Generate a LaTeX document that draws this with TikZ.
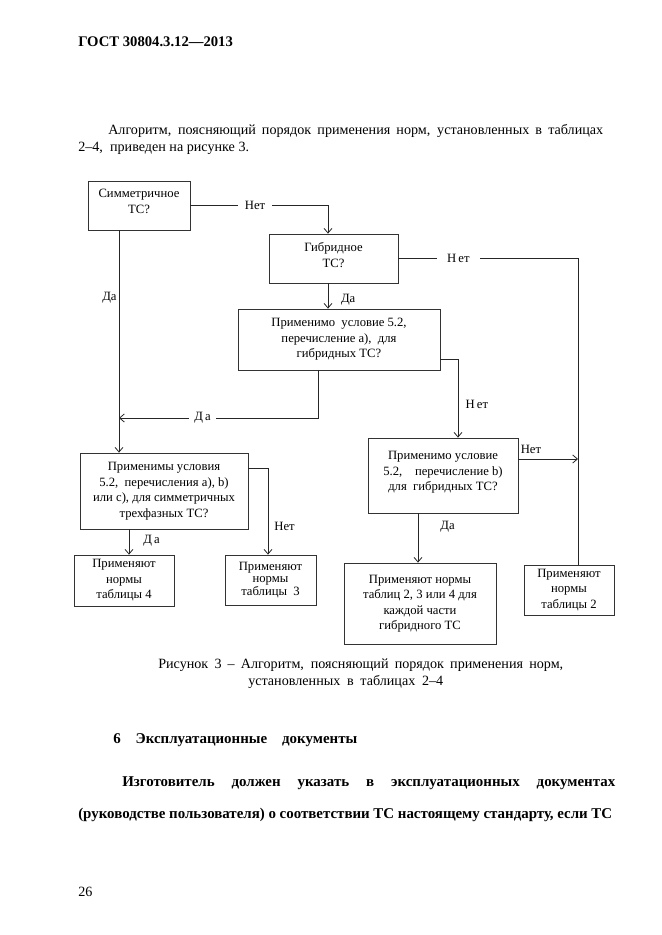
\documentclass[tikz,border=0pt]{standalone}
\usepackage{fontspec}
\setmainfont{Liberation Serif}
\usetikzlibrary{arrows.meta}

\begin{document}
\begin{tikzpicture}[x=0.75pt, y=-0.75pt,
  box/.style={draw=black!80, line width=0.6pt, align=center, inner sep=0pt,
    font=\fontsize{9.5pt}{11.6pt}\selectfont},
  lbl/.style={font=\fontsize{9.5pt}{11pt}\selectfont, inner sep=1.5pt},
  wire/.style={draw=black!85, line width=0.6pt},
  arr/.style={wire, -{Straight Barb[length=3.5pt,width=6pt]}},
  txt/.style={anchor=mid west, inner sep=0pt, font=\fontsize{10.6pt}{12pt}\selectfont},
  btxt/.style={txt, font=\fontsize{11.2pt}{13pt}\selectfont\bfseries}]

% page
\useasboundingbox (0,0) rectangle (661,935);
\fill[white] (0,0) rectangle (661,935);

% text above the figure
\node[btxt, font=\fontsize{11pt}{13pt}\selectfont\bfseries] (head) at (78,43) {ГОСТ 30804.3.12—2013};
\node[txt] (par1) at (108,131) {\makebox[371.25pt][s]{Алгоритм, поясняющий порядок применения норм, установленных в таблицах}};
\node[txt] (par2) at (78,148) {2–4,\ \ приведен на рисунке 3.};

% the boxes of the algorithm (the rule at the end lifts the text a little)
\node[box, minimum width=76.5pt, minimum height=36.75pt] (sym) at (139,205.5) {Симметричное\\ТС?\rule[-6pt]{0pt}{0pt}};
\node[box, minimum width=96.75pt, minimum height=36.75pt] (hyb) at (333.5,258.5) {Гибридное\\ТС?\rule[-5.25pt]{0pt}{0pt}};
\node[box, minimum width=151.5pt, minimum height=45.75pt] (conda) at (339,339.5) {Применимо\ \ условие 5.2,\\перечисление а),\ \ для\\гибридных ТС?};
\node[box, minimum width=126pt, minimum height=57pt] (symc) at (164,491) {Применимы условия\\5.2,\ \ перечисления а), b)\\или с), для симметричных\\трехфазных ТС?};
\node[box, minimum width=112.5pt, minimum height=56.25pt] (condb) at (443,475.5) {Применимо условие\\5.2,\quad перечисление b)\\для\ \ гибридных ТС?\rule[-6.75pt]{0pt}{0pt}};
\node[box, minimum width=67.5pt, minimum height=37.5pt] (tab2) at (569,590) {Применяют\\нормы\\таблицы 2};
\node[box, minimum width=114pt, minimum height=60.75pt] (tab234) at (420,603.5) {Применяют нормы\\таблиц 2, 3 или 4 для\\каждой части\\гибридного ТС};
\node[box, minimum width=75pt, minimum height=38.25pt] (tab4) at (124,580.5) {Применяют\\нормы\\таблицы 4};
\node[box, minimum width=68.25pt, minimum height=37.5pt, font=\fontsize{9.5pt}{8.8pt}\selectfont] (tab3) at (270.5,580) {Применяют\\нормы\\таблицы\ \ 3};

% points where the connectors leave the boxes
\coordinate (symS) at ([xshift=-15pt]sym.south);
\coordinate (hybN) at ([xshift=-4.125pt]hyb.north);
\coordinate (hybS) at ([xshift=-4.125pt]hyb.south);
\coordinate (condaS) at ([xshift=-15.75pt]conda.south);
\coordinate (condaE) at ([yshift=-14.625pt]conda.east);
\coordinate (join) at (119,418);
\coordinate (condbN) at ([xshift=11.25pt]condb.north);
\coordinate (condbE) at ([yshift=12.375pt]condb.east);
\coordinate (condbS) at ([xshift=-18.75pt]condb.south);
\coordinate (tab2N) at ([xshift=6.75pt]tab2.north);
\coordinate (symcE) at ([yshift=17.25pt]symc.east);
\coordinate (symcS) at ([xshift=-26.25pt]symc.south);
\coordinate (tab3N) at ([xshift=-1.875pt]tab3.north);

% connectors
\draw[arr] (sym.east) -| node[lbl, pos=0.235, fill=white, inner xsep=5pt] {Нет} (hybN);
\draw[wire] (hyb.east) -| node[lbl, pos=0.167, fill=white, inner xsep=8pt] {Н\,ет} (tab2N);
\draw[arr] (hybS) -- node[lbl, pos=0.65, anchor=west, xshift=8pt] {Да} (hybS |- conda.north);
\draw[arr] (symS) -- node[lbl, pos=0.305, anchor=east] {Да} (symS |- symc.north);
\draw[arr] (condaS) |- node[lbl, pos=0.79, fill=white, inner xsep=4pt] {Д\,а} (join);
\draw[arr] (condaE) -| node[lbl, pos=0.79, anchor=west, xshift=4pt] {Н\,ет} (condbN);
\draw[arr] (condbE) -- node[lbl, pos=0, anchor=south west, yshift=2pt] {Нет} (tab2N |- condbE);
\draw[arr] (symcE) -| node[lbl, pos=0.84, anchor=west, xshift=3pt] {Нет} (tab3N);
\draw[arr] (symcS) -- node[lbl, pos=0.46, anchor=west, xshift=9pt] {Д\,а} (symcS |- tab4.north);
\draw[arr] (condbS) -- node[lbl, pos=0.28, anchor=west, xshift=15pt] {Да} (condbS |- tab234.north);

% caption and the text below
\node[txt] (cap1) at (158,665) {\makebox[303.75pt][s]{Рисунок 3 – Алгоритм, поясняющий порядок применения норм,}};
\node[txt] (cap2) at (248,682) {\makebox[146.25pt][s]{установленных в таблицах 2–4}};
\node[btxt] (sec) at (113,740) {\makebox[183pt][s]{6 Эксплуатационные документы}};
\node[btxt] (bp1) at (122,783) {\makebox[369.75pt][s]{Изготовитель должен указать в эксплуатационных документах}};
\node[btxt] (bp2) at (78,815) {\makebox[400.5pt][s]{(руководстве пользователя) о соответствии ТС настоящему стандарту, если ТС}};
\node[txt] (pg) at (78,893) {26};
\end{tikzpicture}
\end{document}
